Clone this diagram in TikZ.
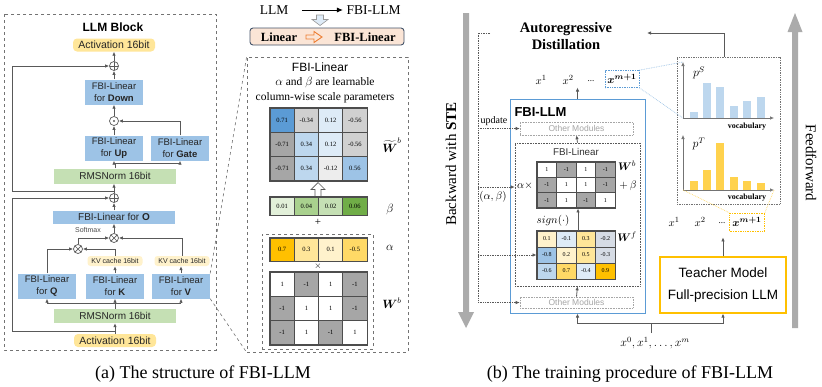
\documentclass[tikz,border=0pt]{standalone}
\usepackage{amsmath}
\usepackage{fontspec}
\setmainfont{Liberation Serif}
\setsansfont{Liberation Sans}
\usetikzlibrary{arrows.meta,calc}
\definecolor{fbib}{HTML}{9DC3E6}
\definecolor{rmsg}{HTML}{C5E0B4}
\definecolor{acty}{HTML}{FFE699}
\definecolor{kvy}{HTML}{FFF2CC}
\definecolor{ln}{HTML}{595959}
\definecolor{cellln}{HTML}{4D4D4D}
\definecolor{bA}{HTML}{5B9BD5}
\definecolor{bB}{HTML}{9DC3E6}
\definecolor{bC}{HTML}{BDD7EE}
\definecolor{bD}{HTML}{DEEBF7}
\definecolor{bE}{HTML}{D6DCE5}
\definecolor{gA}{HTML}{A6A6A6}
\definecolor{gB}{HTML}{D0D0D0}
\definecolor{gC}{HTML}{EDEDED}
\definecolor{grA}{HTML}{E2F0D9}
\definecolor{grB}{HTML}{A9D18E}
\definecolor{grC}{HTML}{C5E0B4}
\definecolor{grD}{HTML}{70AD47}
\definecolor{yA}{HTML}{FFC000}
\definecolor{yB}{HTML}{FFE699}
\definecolor{yC}{HTML}{FFF2CC}
\definecolor{yD}{HTML}{FFD966}
\definecolor{barylw}{HTML}{FFD24D}
\definecolor{peach}{HTML}{FBE5D6}
\definecolor{slate}{HTML}{44546A}
\definecolor{orng}{HTML}{ED7D31}
\definecolor{bigg}{HTML}{ABABAB}
\tikzset{
  arr/.style={draw=ln, line width=0.8pt, -{Latex[length=4pt,width=3.5pt]}},
  lnn/.style={draw=ln, line width=0.8pt},
  fbi/.style={fill=fbib, inner sep=0pt, minimum width=58pt, minimum height=25pt, align=center,
    font=\sffamily\fontsize{9.5}{11.5}\selectfont, text=black!85},
  rms/.style={fill=rmsg, inner sep=0pt, minimum width=122pt, minimum height=15pt,
    font=\sffamily\fontsize{10}{11}\selectfont, text=black!85},
  act/.style={fill=acty, rounded corners=4pt, inner sep=0pt, minimum width=82pt, minimum height=13pt,
    font=\sffamily\fontsize{10.5}{11}\selectfont, text=black!85},
  kv/.style={fill=kvy, rounded corners=3pt, inner sep=0pt, minimum width=55pt, minimum height=10pt,
    font=\sffamily\fontsize{7}{8}\selectfont, text=black!85},
  opl/.style={circle, draw=ln, line width=0.7pt, minimum size=9pt, inner sep=0pt,
    path picture={\draw[ln, line width=0.7pt] (path picture bounding box.north) -- (path picture bounding box.south)
      (path picture bounding box.west) -- (path picture bounding box.east);}},
  otm/.style={circle, draw=ln, line width=0.7pt, minimum size=9pt, inner sep=0pt,
    path picture={\draw[ln, line width=0.7pt] (path picture bounding box.north west) -- (path picture bounding box.south east)
      (path picture bounding box.south west) -- (path picture bounding box.north east);}},
  odt/.style={circle, draw=ln, line width=0.7pt, minimum size=9pt, inner sep=0pt,
    path picture={\fill[ln] (path picture bounding box.center) circle (1.2pt);}},
  cellA/.style={draw=cellln, line width=1pt, inner sep=0pt, minimum width=24.25pt, minimum height=24.33pt,
    font=\fontsize{6.5}{7}\selectfont},
  cellB/.style={draw=cellln, line width=1pt, inner sep=0pt, minimum width=24.25pt, minimum height=18pt,
    font=\fontsize{6.5}{7}\selectfont},
  cellC/.style={draw=cellln, line width=1pt, inner sep=0pt, minimum width=24.25pt, minimum height=23pt,
    font=\fontsize{6.5}{7}\selectfont},
  cellS/.style={draw=cellln, line width=1pt, inner sep=0pt, minimum width=19.5pt, minimum height=15.33pt,
    font=\fontsize{6}{6.5}\selectfont},
  cellF/.style={draw=cellln, line width=1pt, inner sep=0pt, minimum width=19.5pt, minimum height=16pt,
    font=\fontsize{6}{6.5}\selectfont},
  dotln/.style={draw=ln, line width=0.7pt, densely dotted},
  dotarr/.style={draw=ln, line width=0.7pt, densely dotted, -{Latex[length=4pt,width=3.5pt]}},
  omod/.style={draw=black!35, densely dotted, line width=0.6pt, inner sep=0pt, minimum width=113pt,
    font=\sffamily\fontsize{8.5}{9}\selectfont, text=black!35},
  axarr/.style={draw=black!55, line width=0.6pt, -{Latex[length=4pt,width=3.5pt]}},
}
\begin{document}
\begin{tikzpicture}[x=1pt,y=-1pt]
\useasboundingbox (0,0) rectangle (822,386);
\fill[white] (0,0) rectangle (822,386);

% ================= (a) LLM block =================
\draw[dashed, black!55, line width=0.7pt] (4,14) rectangle (216,350);
\node[font=\sffamily\bfseries\fontsize{12}{14}\selectfont] (llmt) at (113,27) {LLM Block};
\node[act] (a1) at (114,45) {Activation 16bit};
\node[opl] (p1) at (114,66) {};
\node[fbi] (down) at (114,92) {FBI-Linear\\for \textbf{Down}};
\node[odt] (od) at (114,121) {};
\node[fbi] (up) at (114,148) {FBI-Linear\\for \textbf{Up}};
\node[fbi] (gate) at (180,148) {FBI-Linear\\for \textbf{Gate}};
\node[rms] (r1) at (115,176) {RMSNorm 16bit};
\node[opl] (p2) at (114,198) {};
\node[fbi, minimum width=122pt, minimum height=13pt, font=\sffamily\fontsize{10}{11}\selectfont] (o) at (114,217) {FBI-Linear for \textbf{O}};
\node[otm] (t1) at (114,238) {};
\node[otm] (t2) at (78,249) {};
\node[font=\sffamily\fontsize{7}{8}\selectfont, text=black!70] (sm) at (88,230) {Softmax};
\node[kv] (kvk) at (115,261) {KV cache 16bit};
\node[kv] (kvv) at (182,261) {KV cache 16bit};
\node[fbi] (q) at (47,286) {FBI-Linear\\for \textbf{Q}};
\node[fbi] (k) at (115,286) {FBI-Linear\\for \textbf{K}};
\node[fbi] (v) at (181,286) {FBI-Linear\\for \textbf{V}};
\node[rms, minimum height=14pt] (r2) at (115,316) {RMSNorm 16bit};
\node[act] (a2) at (115,340.5) {Activation 16bit};

\draw[arr] (a2.north) -- (r2.south);
\coordinate (br1) at (115,303);
\draw[lnn] (r2.north) -- (br1);
\draw[lnn] (q.south |- br1) -- (v.south |- br1);
\draw[arr] (q.south |- br1) -- (q.south);
\draw[arr] (br1) -- (k.south);
\draw[arr] (v.south |- br1) -- (v.south);
\draw[arr] (q.north) |- (t2.west);
\draw[arr] (k.north) -- (kvk.south);
\draw[arr] (v.north) -- (v.north |- kvv.south);
\draw[arr] (kvk.north) |- (t2.east);
\draw[arr] (kvv.north) |- (t1.east);
\draw[arr] (t2.north) |- (t1.west);
\draw[arr] (t1.north) -- (o.south -| t1);
\draw[arr] (o.north -| p2) -- (p2.south);
\draw[arr] (p2.north) -- (p2.north |- r1.south);
\coordinate (rs1) at (115,331);
\coordinate (rs1l) at (12,331);
\draw[arr] (rs1) -- (rs1l) |- (p2.west);
\coordinate (rs2) at (114,191);
\coordinate (rs2l) at (12,191);
\draw[arr] (rs2) -- (rs2l) |- (p1.west);
\coordinate (br2) at (115,163);
\draw[lnn] (r1.north) -- (br2);
\draw[lnn] (up.south |- br2) -- (gate.south |- br2);
\draw[arr] (up.south |- br2) -- (up.south);
\draw[arr] (gate.south |- br2) -- (gate.south);
\draw[arr] (up.north) -- (od.south);
\draw[arr] (gate.north) |- (od.east);
\draw[arr] (od.north) -- (down.south);
\draw[arr] (down.north) -- (p1.south);
\draw[arr] (p1.north) -- (a1.south);

% ================= (a) middle: FBI-Linear =================
\node[font=\fontsize{13.5}{15}\selectfont] (llm) at (274,10) {LLM};
\node[font=\fontsize{13.5}{15}\selectfont] (fllm) at (373.5,10) {FBI-LLM};
\draw[line width=0.9pt, -{Latex[length=6pt,width=5pt]}] (llm.east) ++(10,0) coordinate (la) -- (fllm.west);
\draw[draw=black!40, fill=bD, line width=0.6pt] (316.5,15) -- (323.5,15) -- (323.5,19.5) -- (328,19.5) -- (320,25.5) -- (312,19.5) -- (316.5,19.5) -- cycle;
\node[draw=slate, fill=peach, rounded corners=3pt, line width=0.9pt, minimum width=154pt, minimum height=17pt, inner sep=0pt] (lin) at (327,36.5) {};
\node[font=\bfseries\fontsize{12.5}{14}\selectfont] (lin1) at (279,37) {Linear};
\node[font=\bfseries\fontsize{12.5}{14}\selectfont] (lin2) at (365,37) {FBI-Linear};
\draw[draw=orng, fill=peach, line width=0.9pt] (306,35) -- (314,35) -- (314,31.5) -- (322,37) -- (314,42.5) -- (314,39) -- (306,39) -- cycle;

\node[draw=black!55, dashed, line width=0.7pt, minimum width=161pt, minimum height=295pt, inner sep=0pt] (zb) at (327.5,204.5) {};
\node[font=\sffamily\fontsize{12}{14}\selectfont] (zbt) at (320,67) {FBI-Linear};
\node[font=\fontsize{11.5}{15}\selectfont, align=center] (zbd) at (325,90.5) {$\alpha$ and $\beta$ are learnable\\column-wise scale parameters};

% W tilde
\foreach \v/\c [count=\i] in {0.71/bA,-0.34/gB,0.12/bD,-0.56/gB}
  \node[cellA, fill=\c] (wt-1-\i) at ({270+24.25*(\i-0.5)},{108+24.33*0.5}) {\v};
\foreach \v/\c [count=\i] in {-0.71/gA,0.34/bC,0.12/bD,-0.56/gB}
  \node[cellA, fill=\c] (wt-2-\i) at ({270+24.25*(\i-0.5)},{108+24.33*1.5}) {\v};
\foreach \v/\c [count=\i] in {-0.71/gA,0.34/bC,-0.12/gC,0.56/bB}
  \node[cellA, fill=\c] (wt-3-\i) at ({270+24.25*(\i-0.5)},{108+24.33*2.5}) {\v};
\draw[cellln, line width=1.4pt] (wt-1-1.north west) rectangle (wt-3-4.south east);
\node[font=\fontsize{12}{14}\selectfont, inner sep=1pt] (wtl) at (392,145) {$\widetilde{\boldsymbol{W}}^b$};
\draw[draw=ln, fill=white, line width=0.7pt] (315,197) -- (321,197) -- (321,189.5) -- (325,189.5) -- (318,182.5) -- (311,189.5) -- (315,189.5) -- cycle;
% beta
\foreach \v/\c [count=\i] in {0.01/grA,0.04/grB,0.02/grC,0.06/grD}
  \node[cellB, fill=\c] (be-\i) at ({270+24.25*(\i-0.5)},206) {\v};
\draw[cellln, line width=1.4pt] (be-1.north west) rectangle (be-4.south east);
\node[font=\fontsize{12}{14}\selectfont] (bel) at (390,209) {$\beta$};
\node[font=\fontsize{11}{12}\selectfont] (plus) at (318,222.5) {+};
\node[draw=black!55, dashed, line width=0.7pt, minimum width=111pt, minimum height=115pt, inner sep=0pt] (ibx) at (317.5,291.5) {};
% alpha
\foreach \v/\c [count=\i] in {0.7/yA,0.3/yB,0.1/yC,-0.5/yD}
  \node[cellC, fill=\c] (al-\i) at ({270+24.25*(\i-0.5)},249.5) {\v};
\draw[cellln, line width=1.4pt] (al-1.north west) rectangle (al-4.south east);
\node[font=\fontsize{12}{14}\selectfont] (all) at (390,248) {$\alpha$};
\node[font=\fontsize{9}{10}\selectfont] (tms) at (318,266.5) {$\times$};
% W^b
\foreach \v/\c [count=\i] in {1/white,-1/gA,1/white,-1/gA}
  \node[cellA, fill=\c] (wb-1-\i) at ({270+24.25*(\i-0.5)},{272+24.33*0.5}) {\v};
\foreach \v/\c [count=\i] in {-1/gA,1/white,1/white,-1/gA}
  \node[cellA, fill=\c] (wb-2-\i) at ({270+24.25*(\i-0.5)},{272+24.33*1.5}) {\v};
\foreach \v/\c [count=\i] in {-1/gA,1/white,-1/gA,1/white}
  \node[cellA, fill=\c] (wb-3-\i) at ({270+24.25*(\i-0.5)},{272+24.33*2.5}) {\v};
\draw[cellln, line width=1.4pt] (wb-1-1.north west) rectangle (wb-3-4.south east);
\node[font=\fontsize{12}{14}\selectfont] (wbl) at (392,303) {$\boldsymbol{W}^b$};

\draw[dashed, black!55, line width=0.6pt] (v.north east) -- (zb.north west);
\draw[dashed, black!55, line width=0.6pt] (v.south east) -- (zb.south west);

% ================= (b) training =================
\fill[bigg] (463,13) -- (469,13) -- (469,312) -- (474,312) -- (466,328) -- (458,312) -- (463,312) -- cycle;
\fill[bigg] (792,328) -- (798,328) -- (798,32) -- (802.5,32) -- (795,13) -- (787.5,32) -- (792,32) -- cycle;
\node[rotate=90, font=\fontsize{15}{17}\selectfont] (bw) at (451,164) {Backward with \textbf{STE}};
\node[rotate=-90, font=\fontsize{15}{17}\selectfont] (ffw) at (811,163) {Feedforward};

\node[font=\bfseries\fontsize{14.5}{17}\selectfont, align=center] (ad) at (566,36) {Autoregressive\\Distillation};

\node[font=\fontsize{11}{13}\selectfont] (tx1) at (541,80) {$x^1$};
\node[font=\fontsize{11}{13}\selectfont] (tx2) at (568,80) {$x^2$};
\node[font=\fontsize{9}{11}\selectfont] (txd) at (591,81) {...};
\node[draw=bA, densely dotted, line width=0.7pt, minimum width=34pt, minimum height=17pt, inner sep=0pt, font=\fontsize{11}{13}\selectfont] (txm) at (622,79) {$\boldsymbol{x^{m+1}}$};

\node[draw=bA, line width=1pt, minimum width=135pt, minimum height=214pt, inner sep=0pt] (fl) at (577.5,206) {};
\node[font=\sffamily\bfseries\fontsize{13}{15}\selectfont] (flt) at (540.5,112) {FBI-LLM};
\node[omod, minimum height=13pt] (om1) at (576.5,128.5) {Other Modules};
\node[draw=ln, densely dotted, line width=0.6pt, minimum width=125pt, minimum height=143pt, inner sep=0pt] (ib) at (577.5,214.5) {};
\node[font=\sffamily\fontsize{9.8}{11}\selectfont, text=black!80] (ibt) at (576,152) {FBI-Linear};
\foreach \v/\c [count=\i] in {1/white,-1/gA,1/white,-1/gA}
  \node[cellS, fill=\c] (sb-1-\i) at ({537+19.5*(\i-0.5)},{162+15.33*0.5}) {\v};
\foreach \v/\c [count=\i] in {-1/gA,1/white,1/white,-1/gA}
  \node[cellS, fill=\c] (sb-2-\i) at ({537+19.5*(\i-0.5)},{162+15.33*1.5}) {\v};
\foreach \v/\c [count=\i] in {-1/gA,1/white,-1/gA,1/white}
  \node[cellS, fill=\c] (sb-3-\i) at ({537+19.5*(\i-0.5)},{162+15.33*2.5}) {\v};
\draw[cellln, line width=1.3pt] (sb-1-1.north west) rectangle (sb-3-4.south east);
\node[font=\fontsize{11}{13}\selectfont] (sbl) at (627,166) {$\boldsymbol{W}^b$};
\node[font=\fontsize{11}{13}\selectfont] (sbp) at (628,186) {$+\,\beta$};
\node[font=\fontsize{11}{13}\selectfont] (sba) at (525,186) {$\alpha\times$};
\node[font=\fontsize{11}{13}\selectfont] (sgn) at (553,221) {$sign(\cdot)$};
\foreach \v/\c [count=\i] in {0.1/yC,-0.1/bD,0.3/yB,-0.2/bE}
  \node[cellF, fill=\c] (wf-1-\i) at ({537+19.5*(\i-0.5)},{231+16*0.5}) {\v};
\foreach \v/\c [count=\i] in {-0.8/bB,0.2/yC,0.5/yB,-0.3/bE}
  \node[cellF, fill=\c] (wf-2-\i) at ({537+19.5*(\i-0.5)},{231+16*1.5}) {\v};
\foreach \v/\c [count=\i] in {-0.6/bC,0.7/yD,-0.4/bD,0.9/yA}
  \node[cellF, fill=\c] (wf-3-\i) at ({537+19.5*(\i-0.5)},{231+16*2.5}) {\v};
\draw[cellln, line width=1.3pt] (wf-1-1.north west) rectangle (wf-3-4.south east);
\node[font=\fontsize{11}{13}\selectfont] (wfl) at (627,237) {$\boldsymbol{W}^f$};
\node[omod, minimum height=11pt] (om2) at (576.5,302.5) {Other Modules};

\coordinate (sgx) at (578,0);
\draw[arr] (sgx |- wf-1-1.north) -- (sgx |- sb-3-1.south);
\draw[arr] (fl.north) -- ++(0,-11);
\draw[arr] (ib.north) -- (om1.south);
\draw[arr] (om2.north) -- (ib.south);

\coordinate (dt) at (490,33);
\coordinate (dc) at (478,33);
\coordinate (dbt) at (478,302.5);
\draw[dotln] (dt) -- (dc) -- (dbt);
\draw[dotarr] (dbt) -- (om2.west);
\draw[dotarr] (dc |- om1) -- (om1.west);
\node[font=\fontsize{10}{11}\selectfont] (upd) at (494,121) {update};
\coordinate (dab) at (478,187);
\draw[dotarr] (dab) -- (dab -| ib.west);
\node[font=\fontsize{10.5}{12}\selectfont] (abl) at (493,197) {$(\alpha,\beta)$};
\draw[dotarr] (dc |- wf-2-1) -- (wf-2-1.west);

% distributions
\node[draw=black!55, densely dotted, line width=0.7pt, minimum width=103pt, minimum height=147pt, inner sep=0pt] (dbx) at (728.5,130.5) {};
\coordinate (ta) at (724,33);
\coordinate (te) at (647,33);
\draw[arr] (dbx.north -| ta) -- (ta) -- (te);
\coordinate (os) at (683,118);
\coordinate (ys) at (683,62);
\coordinate (xs) at (774,118);
\foreach \x/\t in {690/112,703/83,716/87,730/106,743/101,757/97}
  \fill[bC] (\x,118) rectangle ++(7.5,{\t-118});
\draw[axarr] (os) -- (ys);
\draw[axarr] (os) -- (xs);
\node[font=\fontsize{12}{14}\selectfont] (pS) at (699,73) {$p^S$};
\node[font=\bfseries\fontsize{8}{9}\selectfont] (voc1) at (747,127) {vocabulary};
\coordinate (ot) at (683,190);
\coordinate (yt) at (683,135);
\coordinate (xt) at (774,190);
\foreach \x/\t in {690/181,703/170,716/143,730/177,743/181,757/183}
  \fill[barylw] (\x,190) rectangle ++(7.5,{\t-190});
\draw[axarr] (ot) -- (yt);
\draw[axarr] (ot) -- (xt);
\node[font=\fontsize{12}{14}\selectfont] (pT) at (699,144) {$p^T$};
\node[font=\bfseries\fontsize{8}{9}\selectfont] (voc2) at (747,198) {vocabulary};

\draw[bB, densely dotted, line width=0.7pt] (txm.north east) -- (ys);
\draw[bB, densely dotted, line width=0.7pt] (txm.south east) -- (os);

\node[font=\fontsize{11}{13}\selectfont] (bx1) at (674,222) {$x^1$};
\node[font=\fontsize{11}{13}\selectfont] (bx2) at (700,222) {$x^2$};
\node[font=\fontsize{9}{11}\selectfont] (bxd) at (722,223) {...};
\node[draw=yA, densely dotted, line width=0.7pt, minimum width=35pt, minimum height=18pt, inner sep=0pt, font=\fontsize{11}{13}\selectfont] (bxm) at (747,222) {$\boldsymbol{x^{m+1}}$};
\draw[yD, densely dotted, line width=0.7pt] (ot) -- (bxm.north west);
\draw[yD, densely dotted, line width=0.7pt] (xt) -- (bxm.north east);

\node[draw=yA, line width=1.2pt, minimum width=126pt, minimum height=56pt, inner sep=0pt, align=center,
  font=\sffamily\fontsize{13.5}{15}\selectfont] (tm) at (723,285) {Teacher Model\\[7pt]Full-precision LLM};
\draw[arr] (tm.north) -- ++(0,-19);

\coordinate (ibm) at (651,323);
\coordinate (ibb) at (651,333);
\draw[lnn] (ibb) -- (ibm);
\draw[arr] (ibm) -| (fl.south);
\draw[arr] (ibm) -| (tm.south);
\node[font=\fontsize{12}{14}\selectfont] (inl) at (655,343) {$x^0,x^1,\dots,x^m$};

% captions
\node[font=\fontsize{18}{20}\selectfont] (capa) at (203,374) {(a) The structure of FBI-LLM};
\node[font=\fontsize{18}{20}\selectfont] (capb) at (630,374) {(b) The training procedure of FBI-LLM};
\end{tikzpicture}
\end{document}
